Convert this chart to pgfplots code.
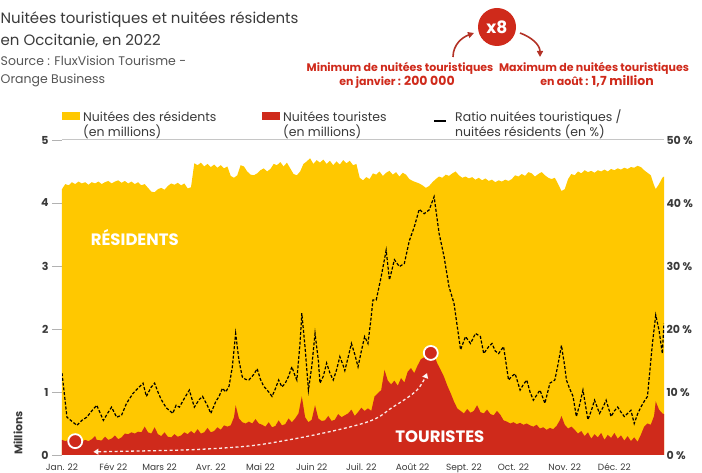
\documentclass[border=0pt]{standalone}
\usepackage{fontspec}
\setmainfont{Poppins}
\usepackage{pgfplots}
\usepackage{pgfplotstable}
\pgfplotsset{compat=1.18}
\usetikzlibrary{arrows.meta}
\definecolor{jaune}{HTML}{FFC800}
\definecolor{rouge}{HTML}{CF2A1B}
\definecolor{fonce}{HTML}{3A3A3A}
\definecolor{gris}{HTML}{555555}
\definecolor{flecherouge}{HTML}{B33226}

% nuitees des residents (millions), jour de l'annee
\pgfplotstableread{
j v
0 4.22
2 4.30
4 4.28
6 4.33
8 4.30
10 4.34
12 4.31
14 4.33
16 4.29
18 4.33
20 4.31
22 4.34
24 4.30
26 4.33
28 4.35
30 4.31
32 4.34
34 4.36
36 4.32
38 4.35
40 4.31
42 4.34
44 4.30
46 4.33
48 4.28
50 4.30
52 4.24
54 4.18
56 4.17
58 4.22
60 4.24
62 4.21
64 4.27
66 4.31
68 4.29
70 4.32
72 4.28
74 4.31
76 4.23
78 4.25
80 4.63
82 4.60
84 4.64
86 4.58
88 4.62
90 4.57
92 4.61
94 4.56
96 4.60
98 4.55
100 4.58
102 4.43
104 4.40
106 4.44
108 4.60
110 4.58
112 4.50
114 4.45
116 4.44
118 4.47
120 4.52
122 4.55
124 4.50
126 4.54
128 4.62
130 4.60
132 4.65
134 4.58
136 4.64
138 4.55
140 4.46
142 4.44
144 4.50
146 4.62
148 4.66
150 4.71
152 4.62
154 4.68
156 4.64
158 4.69
160 4.62
162 4.67
164 4.60
166 4.66
168 4.61
170 4.68
172 4.63
174 4.67
176 4.60
178 4.62
180 4.40
182 4.36
184 4.41
186 4.38
188 4.47
190 4.45
192 4.50
194 4.43
196 4.48
198 4.51
200 4.45
202 4.49
204 4.42
206 4.48
208 4.45
210 4.38
212 4.35
214 4.33
216 4.31
218 4.28
220 4.24
222 4.27
224 4.33
226 4.38
228 4.42
230 4.40
232 4.45
234 4.43
236 4.47
238 4.50
240 4.44
242 4.40
244 4.42
246 4.39
248 4.41
250 4.37
252 4.40
254 4.36
256 4.39
258 4.35
260 4.37
262 4.33
264 4.36
266 4.34
268 4.37
270 4.35
272 4.38
274 4.44
276 4.42
278 4.46
280 4.43
282 4.49
284 4.47
286 4.42
288 4.46
290 4.49
292 4.44
294 4.40
296 4.38
298 4.40
300 4.30
302 4.19
304 4.22
306 4.38
308 4.46
310 4.44
312 4.50
314 4.47
316 4.52
318 4.49
320 4.51
322 4.48
324 4.52
326 4.50
328 4.53
330 4.50
332 4.54
334 4.52
336 4.55
338 4.53
340 4.56
342 4.54
344 4.57
346 4.56
348 4.59
350 4.57
352 4.52
354 4.48
356 4.44
358 4.28
359 4.22
361 4.30
363 4.40
364 4.42
}\residents

% nuitees touristiques (millions)
\pgfplotstableread{
j v
0 0.24
2 0.22
4 0.24
6 0.21
8 0.20
10 0.23
12 0.21
14 0.24
16 0.22
18 0.25
20 0.30
21 0.24
24 0.23
26 0.29
28 0.24
30 0.26
32 0.31
34 0.25
36 0.28
38 0.34
40 0.33
42 0.36
44 0.34
46 0.37
48 0.36
50 0.45
52 0.36
54 0.34
56 0.44
58 0.33
60 0.30
62 0.36
64 0.29
66 0.28
68 0.33
70 0.29
72 0.31
74 0.36
76 0.33
78 0.38
80 0.34
82 0.41
84 0.34
86 0.36
88 0.43
90 0.36
92 0.38
94 0.44
96 0.40
98 0.47
100 0.45
102 0.47
104 0.60
105 0.79
107 0.58
109 0.52
111 0.50
113 0.53
115 0.50
117 0.57
119 0.50
121 0.48
123 0.45
125 0.52
127 0.44
129 0.46
131 0.55
133 0.47
135 0.49
137 0.58
139 0.52
141 0.58
143 0.66
145 0.93
147 0.60
149 0.52
151 0.56
153 0.79
155 0.58
157 0.54
159 0.55
161 0.62
163 0.54
165 0.56
167 0.65
169 0.60
171 0.63
173 0.66
175 0.72
177 0.62
179 0.68
181 0.75
183 0.70
185 0.74
187 0.70
189 0.93
191 0.98
193 1.03
195 1.35
197 1.18
199 1.12
201 1.18
203 1.10
205 1.22
207 1.15
209 1.32
211 1.38
213 1.30
215 1.42
217 1.52
219 1.55
221 1.60
223 1.64
225 1.58
227 1.45
229 1.35
231 1.24
233 1.10
235 0.98
237 0.85
239 0.74
241 0.70
243 0.66
245 0.73
247 0.67
249 0.70
251 0.79
253 0.68
255 0.66
257 0.72
259 0.65
261 0.63
263 0.70
265 0.64
267 0.55
269 0.53
271 0.50
273 0.52
275 0.49
277 0.51
279 0.48
281 0.50
283 0.47
285 0.45
287 0.48
289 0.42
291 0.44
293 0.40
295 0.43
297 0.41
299 0.46
301 0.55
302 0.62
304 0.48
306 0.42
308 0.45
310 0.40
312 0.34
314 0.38
316 0.30
318 0.36
320 0.26
322 0.33
324 0.28
326 0.35
328 0.24
330 0.32
332 0.27
334 0.35
336 0.26
338 0.31
340 0.23
342 0.30
344 0.22
346 0.28
348 0.21
350 0.32
352 0.45
354 0.50
356 0.48
358 0.62
359 0.85
361 0.72
363 0.66
364 0.65
}\touristes

% ratio touristes / residents (%)
\pgfplotstableread{
j r
0 13
3 6
9 4.7
12 5.5
15 6
18 7.0
21 7.9
25 5.5
28 6.8
30 7.6
33 6.0
36 6.3
39 8.2
43 9.8
46 10.6
49 11.4
51 9.3
54 10.8
56 11.4
58 10.0
60 8.8
63 7.5
67 6.6
69 7.9
71 7.6
74 9.0
77 10.3
80 7.6
83 8.8
85 9.3
88 7.8
90 6.6
93 8.5
95 9.3
97 10.6
99 10.0
101 10.9
103 14.0
105 19.3
107 15.0
109 12.4
111 12.0
113 11.9
116 12.8
118 13.7
120 12.0
122 10.9
125 10.0
127 9.3
129 10.5
131 11.9
133 10.8
135 11.4
137 12.5
139 14.0
141 12.5
142 11.9
144 18.0
145 22.5
147 17.0
149 10.3
151 14.0
153 19.3
155 15.0
156 11.4
158 12.5
160 14.6
162 13.0
164 11.9
166 13.5
168 15.6
170 14.2
171 13.4
173 15.5
175 17.7
177 16.0
179 14.0
181 16.5
183 18.8
185 17.7
187 22.0
188 24.6
190 24.6
193 28.3
196 32.5
198 27.8
201 31.0
204 29.9
207 30.4
210 34.0
213 36.2
216 39.0
219 38.3
222 38.9
225 41.0
228 35.2
231 31.5
234 26.7
237 24.1
239 20.4
241 16.7
244 18.8
247 17.7
250 19.3
253 18.8
255 16.1
258 17.2
260 17.7
262 16.5
264 16.1
267 17.2
270 11.9
272 12.5
274 12.9
277 10.3
279 11.2
281 11.9
283 10.0
285 8.7
287 9.5
289 10.3
292 8.2
295 11.4
298 11.9
300 14.5
302 17.4
304 14.0
305 11.9
307 10.5
309 9.3
311 6.1
313 8.0
315 10.3
318 5.6
320 7.0
322 8.7
325 6.6
327 7.5
329 8.7
332 6.1
334 7.0
336 7.6
338 6.8
340 6.1
342 6.6
344 7.1
346 5.0
348 6.5
350 7.6
352 8.5
354 9.3
357 17.7
359 22.2
361 19.8
363 16.1
364 20.9
}\ratio

\begin{document}
\begin{tikzpicture}
\useasboundingbox (0pt,0pt) rectangle (702pt,473pt);

% titre et source
\node[anchor=base west, inner sep=0pt, text=fonce, font=\fontsize{15}{18}\selectfont] at (0.5pt,449pt) {Nuitées touristiques et nuitées résidents};
\node[anchor=base west, inner sep=0pt, text=fonce, font=\fontsize{15}{18}\selectfont] at (0.5pt,427pt) {en Occitanie, en 2022};
\node[anchor=base west, inner sep=0pt, text=gris, font=\fontsize{12.5}{15}\selectfont] at (0.5pt,407pt) {Source : FluxVision Tourisme -};
\node[anchor=base west, inner sep=0pt, text=gris, font=\fontsize{12.5}{15}\selectfont] at (0.5pt,389pt) {Orange Business};

% encadre x8
\node[circle, fill=rouge, minimum size=38pt, inner sep=0pt, text=white, font=\bfseries\fontsize{17}{18}\selectfont] at (497pt,446pt) {x8};
\draw[flecherouge, line width=1.6pt, -{Triangle[length=6pt,width=6pt]}] (453pt,416pt) to[out=90,in=200] (474pt,440pt);
\draw[flecherouge, line width=1.6pt, -{Triangle[length=6pt,width=6pt]}] (520pt,440pt) to[out=-20,in=90] (540pt,416pt);
\node[anchor=base, inner sep=0pt, text=rouge, font=\bfseries\fontsize{11}{13}\selectfont] at (400pt,401pt) {Minimum de nuitées touristiques};
\node[anchor=base, inner sep=0pt, text=rouge, font=\bfseries\fontsize{11}{13}\selectfont] at (397pt,387pt) {en janvier : {\fontsize{12.5}{14}\selectfont 200 000}};
\node[anchor=base, inner sep=0pt, text=rouge, font=\bfseries\fontsize{11}{13}\selectfont] at (594pt,401pt) {Maximum de nuitées touristiques};
\node[anchor=base, inner sep=0pt, text=rouge, font=\bfseries\fontsize{11}{13}\selectfont] at (597pt,387pt) {en août : {\fontsize{12.5}{14}\selectfont 1,7 million}};

% legende
\fill[jaune] (62pt,353pt) rectangle (80pt,361pt);
\node[anchor=base west, inner sep=0pt, text=fonce, font=\fontsize{12.5}{15}\selectfont] at (83pt,351pt) {Nuitées des résidents};
\node[anchor=base west, inner sep=0pt, text=fonce, font=\fontsize{12.5}{15}\selectfont] at (83pt,336pt) {(en millions)};
\fill[rouge] (262pt,353pt) rectangle (280pt,361pt);
\node[anchor=base west, inner sep=0pt, text=fonce, font=\fontsize{12.5}{15}\selectfont] at (283pt,351pt) {Nuitées touristes};
\node[anchor=base west, inner sep=0pt, text=fonce, font=\fontsize{12.5}{15}\selectfont] at (283pt,336pt) {(en millions)};
\draw[black, line width=1.8pt] (434pt,352pt) -- (446pt,352pt);
\node[anchor=base west, inner sep=0pt, text=fonce, font=\fontsize{12.5}{15}\selectfont] at (455pt,351pt) {Ratio nuitées touristiques /};
\node[anchor=base west, inner sep=0pt, text=fonce, font=\fontsize{12.5}{15}\selectfont] at (455pt,336pt) {nuitées résidents (en \%)};

\node[rotate=90, text=fonce, font=\bfseries\fontsize{11}{12}\selectfont] at (18pt,40pt) {Millions};

\begin{axis}[
  at={(62pt,18pt)}, anchor=south west,
  scale only axis, width=602pt, height=315pt,
  xmin=0, xmax=364, ymin=0, ymax=5,
  axis lines*=left, axis line style={draw=none},
  xtick={0,31,59,90,120,151,181,212,243,273,304,334},
  xticklabels={Jan. 22,Fév 22,Mars 22,Avr. 22,Mai 22,Juin 22,Juil. 22,Août 22,Sept. 22,Oct. 22,Nov. 22,Déc. 22},
  xticklabel style={font=\fontsize{9}{10}\selectfont, text=fonce, anchor=north, inner sep=0pt, text height=6.5pt, text depth=1.5pt, yshift=1pt},
  x tick style={draw=none},
  ytick={0,1,2,3,4,5},
  yticklabels={\textbf{0},\textbf{1},\textbf{2},\textbf{3},\textbf{4},\textbf{5}},
  yticklabel style={font=\fontsize{11}{12}\selectfont, text=fonce},
  ytick style={gray!60, line width=0.8pt},
  tick align=outside, major tick length=10pt,
  ymajorgrids, grid style={gray!45, line width=1pt},
  clip=false,
]
\addplot[fill=jaune, draw=none] table[x=j, y=v] {\residents} \closedcycle;
\addplot[fill=rouge, draw=none] table[x=j, y=v] {\touristes} \closedcycle;
\draw[white, opacity=0.9, line width=1.3pt, dash pattern=on 3pt off 2.5pt, {Triangle[length=5pt,width=6pt]}-{Triangle[length=5pt,width=6pt]}]
  plot[smooth, tension=0.6] coordinates {(axis cs:19,0.05) (axis cs:97,0.11) (axis cs:137,0.24) (axis cs:183,0.51) (axis cs:200,0.76) (axis cs:214.6,1.03) (axis cs:220.7,1.30)};
\addplot[only marks, mark=*, mark size=7pt, mark options={fill=rouge, draw=white, line width=1.8pt}] coordinates {(8,0.22) (223,1.62)};
\node[text=white, font=\bfseries\fontsize{16.5}{18}\selectfont] at (axis cs:44,3.46) {RÉSIDENTS};
\node[text=white, font=\bfseries\fontsize{16.5}{18}\selectfont] at (axis cs:228.5,0.29) {TOURISTES};
\end{axis}

\begin{axis}[
  at={(62pt,18pt)}, anchor=south west,
  scale only axis, width=602pt, height=315pt,
  xmin=0, xmax=364, ymin=0, ymax=50,
  axis x line=none, axis y line*=right, axis line style={draw=none},
  ytick={0,10,20,30,40,50},
  yticklabels={\textbf{0 \%},\textbf{10 \%},\textbf{20 \%},\textbf{30 \%},\textbf{40 \%},\textbf{50 \%}},
  yticklabel style={font=\fontsize{11}{12}\selectfont, text=fonce, anchor=west, xshift=-1pt},
  ytick style={draw=none}, major tick length=0pt,
]
\addplot[black, line width=1.2pt, dash pattern=on 3pt off 1.8pt] table[x=j, y=r] {\ratio};
\end{axis}
\end{tikzpicture}
\end{document}
